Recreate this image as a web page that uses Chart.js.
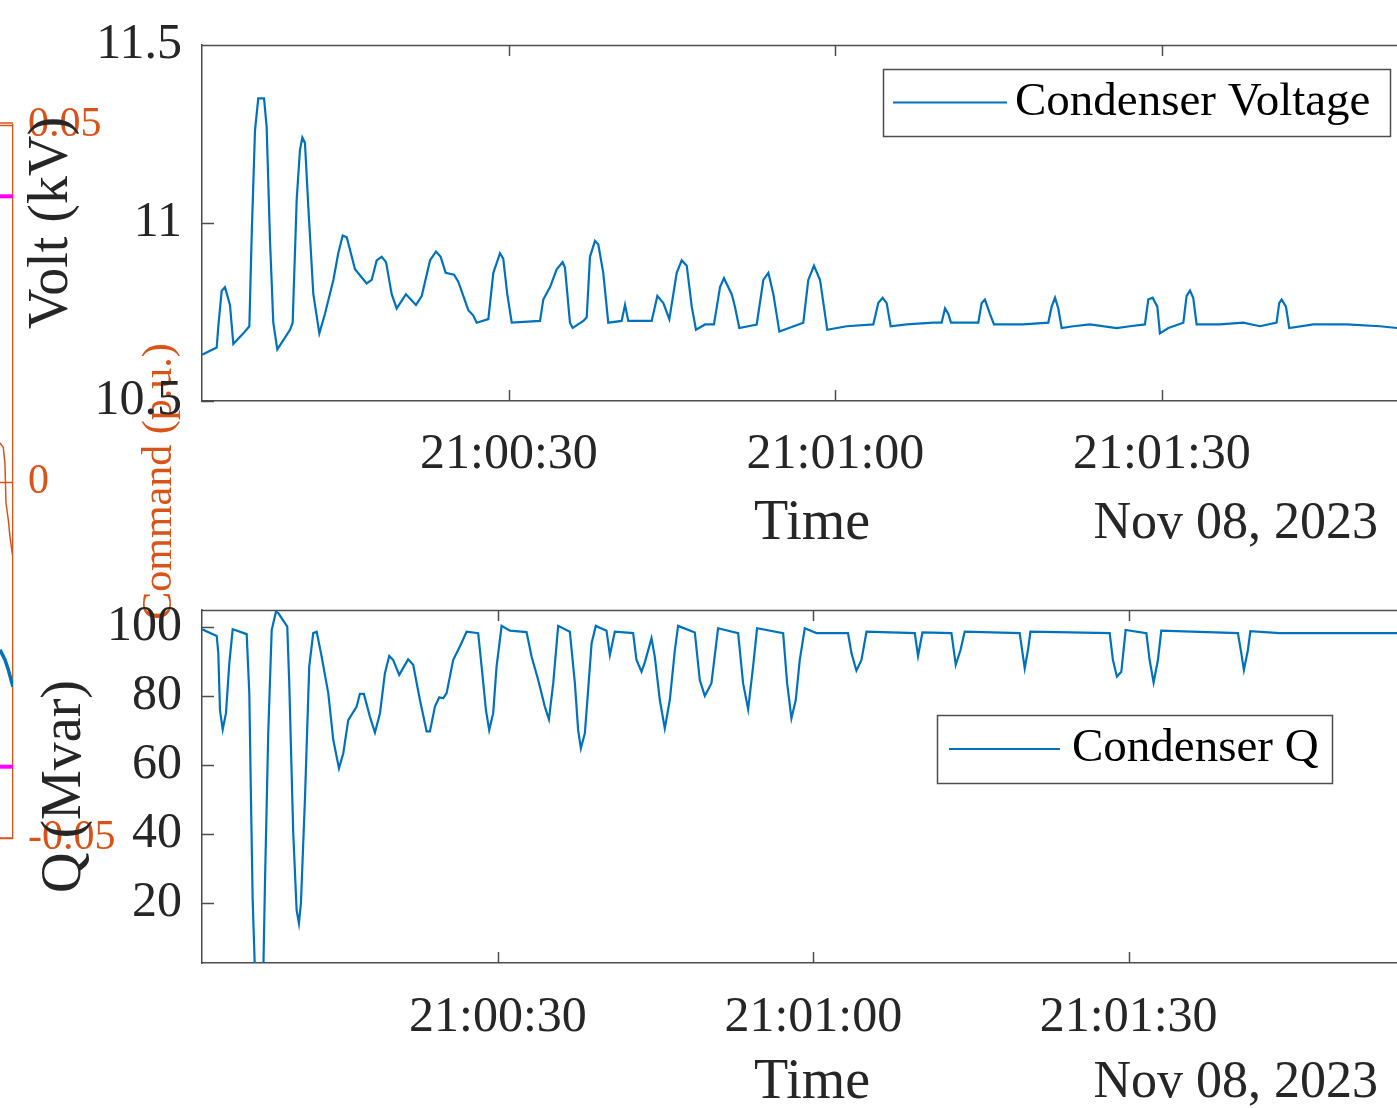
<!DOCTYPE html>
<html>
<head>
<meta charset="utf-8">
<title>Condenser Voltage and Q</title>
<script src="https://cdn.jsdelivr.net/npm/chart.js@4.4.1/dist/chart.umd.min.js"></script>
<style>
  html, body { margin: 0; padding: 0; background: #fff; overflow: hidden; }
  #wrap { position: relative; width: 1397px; height: 1108px; overflow: hidden; }
  canvas { position: absolute; left: 0; }
  #cmdChart { top: 0; z-index: 0; }
  #voltChart { top: 0; z-index: 1; }
  #qChart { top: 570px; z-index: 1; }
</style>
</head>
<body>
<div id="wrap">
  <canvas id="cmdChart" width="260" height="1108"></canvas>
  <canvas id="voltChart" width="1422" height="570"></canvas>
  <canvas id="qChart" width="1422" height="560"></canvas>
</div>
<script>
// times are seconds after 21:00:00
const dateLabel = 'Nov 08, 2023';
const timeTicks = [30, 60, 90];

const voltTime = [
  1.80, 3.15, 3.30, 3.61, 3.91, 4.37, 4.68, 5.60, 6.15, 6.37,
  6.67, 6.97, 7.50, 7.74, 8.05, 8.35, 8.72, 9.89, 10.13, 10.50,
  10.80, 11.02, 11.26, 11.57, 12.03, 12.58, 13.10, 13.87, 14.32, 14.73,
  15.10, 15.86, 16.93, 17.39, 17.85, 18.31, 18.71, 19.23, 19.69, 20.54,
  21.46, 21.99, 22.75, 23.30, 23.73, 24.19, 24.96, 25.35, 25.81, 26.27,
  26.73, 27.04, 28.11, 28.57, 29.18, 29.48, 29.85, 30.26, 32.86, 33.16,
  33.78, 34.39, 34.94, 35.15, 35.61, 35.86, 36.84, 37.15, 37.45, 37.91,
  38.21, 38.67, 39.13, 40.36, 40.67, 40.97, 42.35, 43.12, 43.64, 44.19,
  44.74, 45.42, 45.88, 46.34, 46.80, 47.19, 48.02, 48.84, 49.40, 49.76,
  50.47, 50.77, 51.17, 52.77, 53.38, 53.84, 54.30, 54.85, 57.05, 57.51,
  58.03, 58.59, 59.25, 61.04, 63.48, 63.94, 64.34, 64.71, 65.08, 66.55,
  68.99, 69.76, 70.07, 70.37, 70.62, 73.13, 73.44, 73.74, 74.20, 74.57,
  77.26, 79.56, 79.87, 80.18, 80.48, 80.79, 81.86, 83.39, 85.84, 87.07,
  88.44, 88.75, 89.15, 89.58, 89.82, 90.59, 91.97, 92.27, 92.58, 92.88,
  93.19, 95.33, 97.47, 99.01, 100.54, 100.78, 101.00, 101.40, 101.70, 103.91,
  106.98, 110.03, 111.60, 113.90
];
const voltValue = [
  10.63, 10.65, 10.71, 10.81, 10.82, 10.77, 10.66, 10.69, 10.71, 10.97,
  11.26, 11.35, 11.35, 11.27, 10.95, 10.72, 10.645, 10.70, 10.72, 11.065,
  11.205, 11.24, 11.225, 11.045, 10.80, 10.69, 10.745, 10.84, 10.915, 10.965,
  10.96, 10.87, 10.83, 10.84, 10.895, 10.905, 10.89, 10.80, 10.76, 10.80,
  10.77, 10.795, 10.895, 10.92, 10.905, 10.86, 10.855, 10.835, 10.795, 10.755,
  10.74, 10.72, 10.73, 10.86, 10.915, 10.90, 10.80, 10.72, 10.725, 10.785,
  10.82, 10.87, 10.89, 10.875, 10.72, 10.705, 10.725, 10.735, 10.905, 10.95,
  10.94, 10.86, 10.72, 10.725, 10.77, 10.725, 10.725, 10.725, 10.795, 10.775,
  10.73, 10.86, 10.895, 10.88, 10.765, 10.70, 10.715, 10.715, 10.82, 10.845,
  10.80, 10.765, 10.705, 10.715, 10.84, 10.86, 10.80, 10.695, 10.72, 10.84,
  10.88, 10.84, 10.70, 10.71, 10.715, 10.775, 10.79, 10.775, 10.71, 10.715,
  10.72, 10.72, 10.76, 10.745, 10.72, 10.72, 10.775, 10.785, 10.745, 10.715,
  10.715, 10.72, 10.765, 10.79, 10.76, 10.705, 10.71, 10.715, 10.705, 10.71,
  10.715, 10.785, 10.79, 10.765, 10.69, 10.705, 10.72, 10.795, 10.81, 10.79,
  10.715, 10.715, 10.72, 10.71, 10.72, 10.775, 10.785, 10.765, 10.705, 10.715,
  10.715, 10.71, 10.705, 10.705
];

const qTime = [
  1.85, 3.25, 3.40, 3.56, 3.82, 4.13, 4.45, 4.77, 6.10, 6.35,
  6.51, 6.67, 6.89, 7.68, 7.84, 8.15, 8.48, 8.89, 9.11, 9.96,
  10.15, 10.53, 10.85, 11.07, 11.26, 11.64, 12.05, 12.43, 12.76, 13.23,
  13.86, 14.34, 14.88, 15.29, 15.76, 16.56, 16.87, 17.25, 17.82, 18.30,
  18.78, 19.25, 19.66, 20.04, 20.61, 21.06, 21.46, 21.94, 22.58, 23.22,
  23.53, 24.01, 24.42, 24.79, 25.12, 25.74, 26.38, 27.02, 28.12, 28.45,
  28.86, 29.17, 29.55, 29.87, 30.35, 31.14, 32.72, 33.20, 33.83, 34.46,
  34.85, 35.26, 35.73, 36.84, 37.32, 37.63, 37.89, 38.27, 38.58, 38.91,
  39.31, 40.33, 40.65, 41.12, 42.86, 43.18, 43.66, 44.00, 44.61, 44.92,
  45.40, 45.87, 46.35, 46.83, 47.14, 48.73, 49.20, 49.68, 50.31, 50.94,
  52.85, 53.32, 53.80, 54.27, 54.65, 57.13, 57.51, 57.92, 58.33, 58.71,
  59.19, 60.30, 63.30, 63.63, 64.10, 64.58, 65.06, 69.65, 69.96, 70.38,
  73.14, 73.55, 74.00, 74.40, 79.63, 80.11, 80.42, 80.65, 88.19, 88.50,
  88.88, 89.30, 89.71, 91.68, 91.99, 92.37, 92.78, 93.10, 100.39, 100.71,
  100.96, 101.34, 101.57, 104.35, 110.70, 117.90
];
const qValue = [
  99.3, 97.4, 92.4, 75.9, 70.3, 75.0, 89.5, 99.3, 97.9, 80.8,
  49.9, 20.9, 0.0, 0.0, 25.7, 69.2, 99.1, 104.4, 104.0, 100.1,
  83.7, 40.2, 18.0, 14.1, 19.9, 49.9, 88.5, 98.2, 98.6, 91.4,
  80.8, 67.2, 59.0, 63.4, 73.0, 76.9, 80.6, 80.6, 74.0, 69.4,
  75.0, 86.6, 91.6, 90.4, 86.1, 88.5, 90.6, 89.0, 78.8, 69.7,
  69.7, 76.9, 79.6, 79.3, 80.8, 90.4, 94.3, 98.6, 98.2, 88.5,
  75.9, 70.1, 75.0, 88.5, 100.3, 98.9, 98.5, 91.4, 84.6, 76.9,
  73.2, 83.7, 100.3, 98.6, 83.7, 70.1, 64.8, 69.2, 81.7, 95.3,
  100.3, 98.9, 91.9, 98.6, 98.2, 90.4, 87.0, 90.0, 96.7, 91.4,
  78.8, 70.6, 78.8, 93.3, 100.3, 98.4, 84.6, 80.0, 83.7, 99.6,
  98.2, 83.7, 76.1, 88.5, 99.6, 98.2, 83.7, 73.5, 78.8, 90.4,
  99.6, 98.2, 98.2, 92.4, 87.3, 90.4, 98.6, 98.2, 91.6, 98.4,
  98.2, 89.0, 93.3, 98.6, 98.2, 88.0, 93.3, 98.6, 98.2, 90.4,
  85.6, 87.0, 99.1, 98.2, 90.4, 83.9, 90.4, 98.9, 98.2, 92.4,
  87.5, 93.3, 98.8, 98.2, 98.2, 98.2
];

// the visible sliver of the neighbouring "Command" axes at the far left
const cmdTitle = 'Command (p.u.)';
const cmdTicks = [-0.05, 0, 0.05];
const cmdX = [0, 0.25, 0.38, 0.46, 0.64, 0.77, 1];
const cmdOrange = [0.0054, 0.0048, 0.0026, -0.0030, -0.0054, -0.0078, -0.0108];
const cmdBlueX = [0, 0.38, 0.64, 1];
const cmdBlue = [-0.0236, -0.0250, -0.0264, -0.0288];
const cmdLimits = [0.04, -0.04];

const SERIF = '"Liberation Serif", "Times New Roman", serif';
const BLUE = '#0072BD';
const ORANGE = '#D95319';
const MAGENTA = '#FF00FF';
const AXIS = '#4d4d4d';
const INK = '#262626';

function pad2(n) { return String(n).padStart(2, '0'); }
function fmtTime(v) {
  return '21:' + pad2(Math.floor(v / 60)) + ':' + pad2(Math.round(v % 60));
}
function pairs(xs, ys) { return xs.map((x, i) => ({ x: x, y: ys[i] })); }

// keep the plot box exactly where the padding puts it
function noLabelOverflow(s) {
  s.paddingTop = 0; s.paddingBottom = 0;
  s.paddingLeft = 0; s.paddingRight = 0;
}

// top edge of the box plus MATLAB style inward tick marks
const axisFrame = {
  id: 'axisFrame',
  afterDatasetsDraw(chart) {
    const { ctx, chartArea: a, scales: { x, y } } = chart;
    ctx.save();
    ctx.strokeStyle = AXIS;
    ctx.lineWidth = 1.5;
    ctx.beginPath();
    ctx.moveTo(a.left, a.top + 0.5);
    ctx.lineTo(a.right, a.top + 0.5);
    x.ticks.forEach(t => {
      const px = Math.round(x.getPixelForValue(t.value)) + 0.5;
      ctx.moveTo(px, a.bottom); ctx.lineTo(px, a.bottom - 11);
      ctx.moveTo(px, a.top); ctx.lineTo(px, a.top + 11);
    });
    y.ticks.forEach(t => {
      const py = Math.round(y.getPixelForValue(t.value)) + 0.5;
      ctx.moveTo(a.left, py); ctx.lineTo(a.left + 12, py);
    });
    ctx.stroke();
    ctx.restore();
  }
};

// boxed legend inside the axes, like MATLAB's
const boxLegend = {
  id: 'boxLegend',
  afterDraw(chart, args, o) {
    const ds = chart.data.datasets[0];
    const ctx = chart.ctx;
    const cy = o.y + o.h / 2;
    ctx.save();
    ctx.fillStyle = '#fff';
    ctx.fillRect(o.x, o.y, o.w, o.h);
    ctx.strokeStyle = AXIS;
    ctx.lineWidth = 1.5;
    ctx.strokeRect(o.x + 0.5, o.y + 0.5, o.w, o.h);
    ctx.strokeStyle = ds.borderColor;
    ctx.lineWidth = 1.8;
    ctx.beginPath();
    ctx.moveTo(o.x + o.lineStart, cy);
    ctx.lineTo(o.x + o.lineEnd, cy);
    ctx.stroke();
    ctx.fillStyle = '#000';
    ctx.font = '47px ' + SERIF;
    ctx.textBaseline = 'middle';
    ctx.textAlign = 'left';
    ctx.fillText(ds.label, o.x + o.textStart, cy);
    ctx.restore();
  }
};

// date written at the right under the time axis
const dateNote = {
  id: 'dateNote',
  afterDraw(chart, args, o) {
    const ctx = chart.ctx;
    const sx = chart.scales.x;
    ctx.save();
    ctx.fillStyle = INK;
    ctx.font = '52px ' + SERIF;
    ctx.textAlign = 'right';
    ctx.textBaseline = 'middle';
    ctx.fillText(dateLabel, o.right, sx.bottom - o.fromBottom);
    ctx.restore();
  }
};

function mainOptions(cfg) {
  return {
    responsive: false,
    animation: false,
    devicePixelRatio: 1,
    layout: { autoPadding: false, padding: { top: cfg.top, left: 0, right: 0, bottom: 0 } },
    elements: { point: { radius: 0 }, line: { tension: 0 } },
    plugins: {
      legend: { display: false },
      tooltip: { enabled: false },
      boxLegend: cfg.legend,
      dateNote: { right: 1378, fromBottom: cfg.titleBottom + 33.6 }
    },
    scales: {
      x: {
        type: 'linear',
        min: cfg.xMin,
        max: cfg.xMax,
        afterBuildTicks: s => { s.ticks = timeTicks.map(v => ({ value: v })); },
        afterFit: s => { s.height = cfg.xHeight; noLabelOverflow(s); },
        grid: { display: false, drawTicks: false },
        border: { display: true, color: AXIS, width: 1.5 },
        ticks: {
          padding: cfg.tickPad, color: INK, maxRotation: 0, autoSkip: false,
          font: { family: SERIF, size: 50 },
          callback: v => fmtTime(v)
        },
        title: {
          display: true, text: 'Time', color: INK,
          font: { family: SERIF, size: 56 },
          padding: { top: 0, bottom: cfg.titleBottom }
        }
      },
      y: {
        min: cfg.yMin,
        max: cfg.yMax,
        afterFit: s => { s.width = 202; noLabelOverflow(s); },
        grid: { display: false, drawTicks: false },
        border: { display: true, color: AXIS, width: 1.5 },
        ticks: {
          stepSize: cfg.yStep, includeBounds: false, padding: 20, color: INK,
          font: { family: SERIF, size: 50 },
          callback: v => String(v)
        },
        title: {
          display: true, text: cfg.yTitle, color: INK,
          font: { family: SERIF, size: 56 },
          padding: { top: cfg.yTitlePad, bottom: 0 }
        }
      }
    }
  };
}

new Chart(document.getElementById('voltChart'), {
  type: 'line',
  data: {
    datasets: [{
      label: 'Condenser Voltage',
      data: pairs(voltTime, voltValue),
      borderColor: BLUE,
      borderWidth: 2.2
    }]
  },
  options: mainOptions({
    top: 45, xMin: 1.8, xMax: 113.9, xHeight: 169, tickPad: 24, titleBottom: 12,
    yMin: 10.5, yMax: 11.5, yStep: 0.5, yTitle: 'Volt (kV)', yTitlePad: 19,
    legend: { x: 883, y: 69, w: 507, h: 67, lineStart: 10, lineEnd: 124, textStart: 132 }
  }),
  plugins: [axisFrame, boxLegend, dateNote]
});

new Chart(document.getElementById('qChart'), {
  type: 'line',
  data: {
    datasets: [{
      label: 'Condenser Q',
      data: pairs(qTime, qValue),
      borderColor: BLUE,
      borderWidth: 2.2
    }]
  },
  options: mainOptions({
    top: 40, xMin: 1.85, xMax: 117.9, xHeight: 167, tickPad: 25, titleBottom: 13,
    yMin: 2.6, yMax: 104.9, yStep: 20, yTitle: 'Q (Mvar)', yTitlePad: 32,
    legend: { x: 937, y: 145, w: 395, h: 68, lineStart: 12, lineEnd: 123, textStart: 135 }
  }),
  plugins: [axisFrame, boxLegend, dateNote]
});

// orange box edges, ticks and the rotated right-hand label
const cmdFrame = {
  id: 'cmdFrame',
  afterDraw(chart) {
    const { ctx, chartArea: a, scales: { y } } = chart;
    ctx.save();
    ctx.strokeStyle = ORANGE;
    ctx.lineWidth = 1.3;
    ctx.beginPath();
    ctx.moveTo(a.left, a.top - 2); ctx.lineTo(a.right, a.top - 2);
    ctx.moveTo(a.left, a.bottom); ctx.lineTo(a.right, a.bottom);
    y.ticks.forEach(t => {
      const py = Math.round(y.getPixelForValue(t.value)) + 0.5;
      ctx.moveTo(a.left, py); ctx.lineTo(a.right, py);
    });
    ctx.stroke();
    ctx.translate(160, (a.top + a.bottom) / 2);
    ctx.rotate(-Math.PI / 2);
    ctx.fillStyle = ORANGE;
    ctx.font = '42px ' + SERIF;
    ctx.textAlign = 'center';
    ctx.textBaseline = 'middle';
    ctx.fillText(cmdTitle, 0, 0);
    ctx.restore();
  }
};

new Chart(document.getElementById('cmdChart'), {
  type: 'line',
  data: {
    datasets: [
      { data: pairs(cmdX, cmdOrange), borderColor: ORANGE, borderWidth: 1.5 },
      { data: pairs(cmdBlueX, cmdBlue), borderColor: BLUE, borderWidth: 3.5 },
      { data: pairs([0, 1], [cmdLimits[0], cmdLimits[0]]), borderColor: MAGENTA, borderWidth: 4 },
      { data: pairs([0, 1], [cmdLimits[1], cmdLimits[1]]), borderColor: MAGENTA, borderWidth: 4 }
    ]
  },
  options: {
    responsive: false,
    animation: false,
    devicePixelRatio: 1,
    layout: { autoPadding: false, padding: { top: 125, left: 0, right: 0, bottom: 1108 - 838 } },
    elements: { point: { radius: 0 }, line: { tension: 0 } },
    plugins: { legend: { display: false }, tooltip: { enabled: false } },
    scales: {
      x: { type: 'linear', min: 0, max: 1, display: false },
      y: {
        position: 'right',
        min: -0.05,
        max: 0.05,
        afterFit: s => { s.width = 247; noLabelOverflow(s); },
        afterBuildTicks: s => { s.ticks = cmdTicks.map(v => ({ value: v })); },
        grid: { display: false, drawTicks: false },
        border: { display: true, color: ORANGE, width: 1.3 },
        ticks: {
          padding: 15, color: ORANGE,
          font: { family: SERIF, size: 42 },
          callback: v => (v === 0 ? '0' : v.toFixed(2))
        }
      }
    }
  },
  plugins: [cmdFrame]
});
</script>
</body>
</html>
